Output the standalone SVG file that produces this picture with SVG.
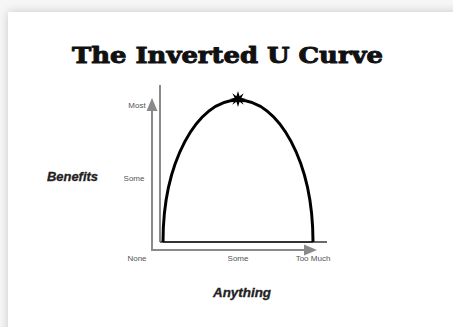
<svg xmlns="http://www.w3.org/2000/svg" width="453" height="327" viewBox="0 0 453 327">
  <defs>
    <filter id="shadow" x="-10%" y="-10%" width="120%" height="120%">
      <feGaussianBlur stdDeviation="5"/>
    </filter>
    <style>
      .small { font-family: "Liberation Sans", Arial, sans-serif; font-size: 8px; fill: #555; }
      .axislabel { font-family: "Liberation Sans", Arial, sans-serif; font-size: 12px; font-weight: bold; font-style: italic; fill: #222; stroke: #222; stroke-width: 0.3; }
      .title { font-family: "DejaVu Serif", "Liberation Serif", serif; font-size: 23px; font-weight: bold; fill: #111; stroke: #111; stroke-width: 1; stroke-linejoin: round; }
      .gray { stroke: #8a8a8a; stroke-width: 2; fill: none; }
      .arrowhead { fill: #8a8a8a; }
    </style>
  </defs>
  <rect x="0" y="0" width="453" height="327" fill="#f6f6f6"/>
  <rect x="8" y="12" width="460" height="330" fill="#c8c8c8" filter="url(#shadow)"/>
  <rect x="8" y="12" width="460" height="330" fill="#ffffff"/>

  <g id="title">
    <text class="title" x="227.5" y="63" text-anchor="middle" textLength="311" lengthAdjust="spacingAndGlyphs">The Inverted U Curve</text>
  </g>

  <g id="axes">
    <line class="gray" x1="160" y1="85" x2="160" y2="242"/>
    <line x1="160" y1="242" x2="327" y2="242" stroke="#6a6a6a" stroke-width="2"/>
    <polyline class="gray" points="152,108 152,250 306,250"/>
    <polygon class="arrowhead" points="152,98 146.5,111 157.5,111"/>
    <polygon class="arrowhead" points="317,250 304,244.5 304,255.5"/>
  </g>

  <g id="curve">
    <line x1="163" y1="242" x2="313" y2="242" stroke="#222" stroke-width="1.5"/>
    <path d="M163,242 C163,163 196.6,100 238,100 C279.4,100 313,163 313,242" fill="none" stroke="#000" stroke-width="3"/>
    <polygon points="238,91 239.6,96.2 243.7,93.3 241.4,97.8 246,99 241.4,100.2 243.7,104.7 239.6,101.8 238,107 236.4,101.8 232.3,104.7 234.6,100.2 230,99 234.6,97.8 232.3,93.3 236.4,96.2" fill="#000"/>
  </g>

  <g id="labels">
    <text class="small" x="137" y="108" text-anchor="middle">Most</text>
    <text class="small" x="134" y="181" text-anchor="middle">Some</text>
    <text class="small" x="137" y="261" text-anchor="middle">None</text>
    <text class="small" x="238" y="261" text-anchor="middle">Some</text>
    <text class="small" x="313" y="261" text-anchor="middle">Too Much</text>
    <text class="axislabel" x="72.5" y="181" text-anchor="middle" textLength="51" lengthAdjust="spacingAndGlyphs">Benefits</text>
    <text class="axislabel" x="242" y="297" text-anchor="middle" textLength="58" lengthAdjust="spacingAndGlyphs">Anything</text>
  </g>
</svg>
